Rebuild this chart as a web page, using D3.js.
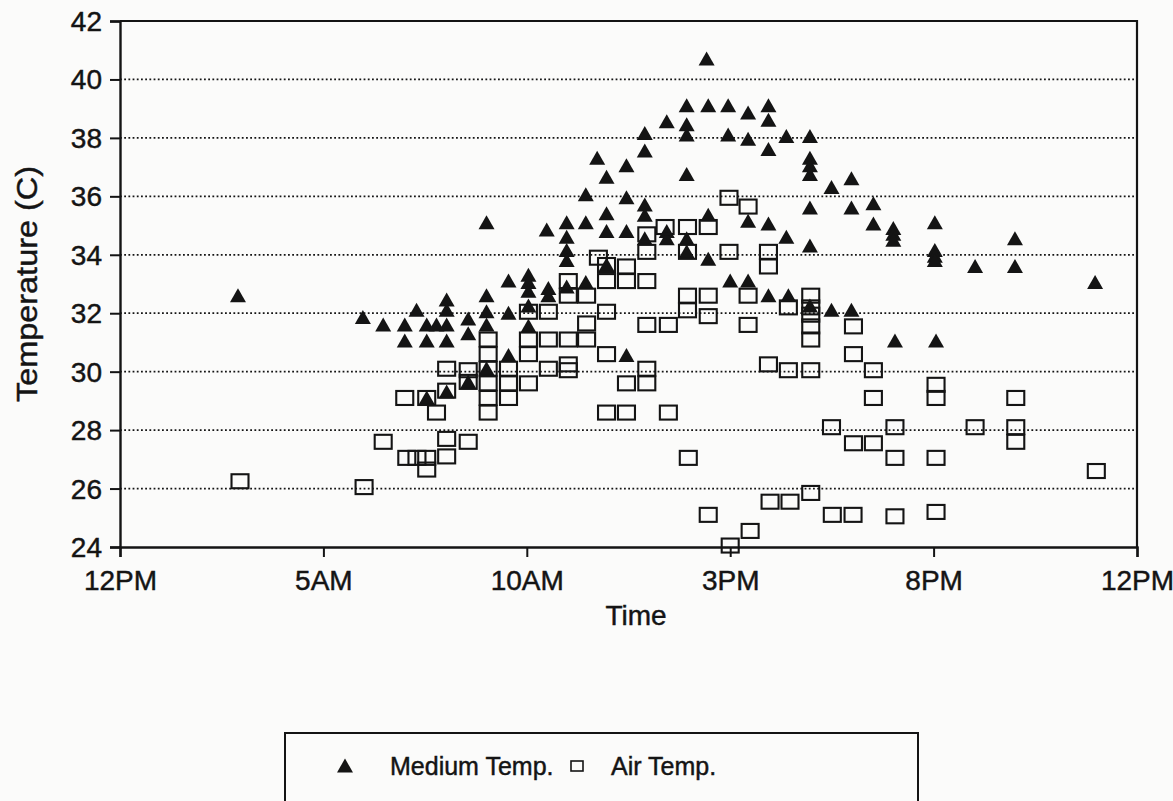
<!DOCTYPE html>
<html><head><meta charset="utf-8">
<script src="https://cdn.jsdelivr.net/npm/d3@7"></script>
<style>
body{margin:0;background:#fbfbfa;}
svg{display:block;}
text{font-family:"Liberation Sans",Arial,Helvetica,sans-serif;fill:#141414;stroke:#141414;stroke-width:0.45px;}
</style>
</head><body>
<svg id="chart" width="1173" height="801"></svg>
<script>
// ---- data (hours after midnight, temperature in C) ----
const mediumHours = [2.9,5.97,6.47,7.0,7.0,7.29,7.54,7.54,7.78,8.03,8.03,8.03,8.03,8.56,8.56,9.01,9.01,9.01,9.01,9.55,9.55,9.55,9.01,8.56,7.54,8.03,10.04,10.04,10.04,10.04,10.04,10.49,10.53,10.53,10.98,10.98,10.98,10.98,10.98,11.45,11.45,11.45,11.73,11.96,11.96,11.96,11.96,12.45,12.45,12.45,12.45,12.9,12.9,12.9,12.9,12.9,13.44,13.44,13.44,13.93,13.93,13.93,13.93,13.93,13.93,14.42,14.46,14.46,14.46,14.95,14.95,15.0,15.44,15.44,15.44,15.44,15.94,15.94,15.94,15.94,15.94,16.38,16.38,16.43,16.96,16.96,16.96,16.96,16.96,16.96,16.96,17.49,17.49,17.98,17.98,17.98,18.52,18.52,19.01,19.01,19.01,19.05,20.03,20.03,20.03,20.03,20.06,21.02,22.0,22.0,23.97];
const mediumTemps = [32.6,31.85,31.6,31.6,31.05,32.1,31.6,31.05,31.6,32.45,32.1,31.6,31.05,31.8,31.3,35.1,32.6,32.05,31.6,33.1,32.0,30.55,30.1,29.65,29.1,29.3,33.3,33.05,32.75,32.25,31.55,34.85,32.85,32.6,35.1,34.6,34.15,33.8,32.9,36.05,35.1,33.05,37.3,36.65,35.4,34.8,33.65,37.05,35.95,34.8,30.55,38.15,37.55,35.7,35.35,34.55,38.55,34.8,34.55,39.1,38.45,38.1,36.75,34.55,34.1,40.7,39.1,35.35,33.85,39.1,38.1,33.1,38.85,37.95,35.15,33.1,39.1,38.6,37.6,35.05,32.6,38.05,34.6,32.6,38.05,37.3,37.05,36.75,35.6,34.3,32.25,36.3,32.1,36.6,35.6,32.1,35.75,35.05,34.9,34.7,34.5,31.05,35.1,34.15,33.95,33.8,31.05,33.6,34.55,33.6,33.05];
const airHours = [2.95,6.0,6.47,7.0,7.05,7.3,7.54,7.54,7.54,7.78,8.03,8.03,8.03,8.03,8.56,8.56,8.56,9.05,9.05,9.05,9.05,9.05,9.05,9.55,9.55,9.55,10.04,10.04,10.04,10.04,10.53,10.53,10.53,11.02,11.02,11.02,11.02,11.02,11.47,11.47,11.47,11.76,11.96,11.96,11.96,11.96,11.96,12.45,12.45,12.45,12.45,12.95,12.95,12.95,12.95,12.95,12.95,13.4,13.48,13.48,13.95,13.95,13.95,13.95,13.97,14.46,14.46,14.46,14.46,14.97,14.97,15.0,15.44,15.44,15.44,15.49,15.94,15.94,15.94,15.98,16.43,16.43,16.47,16.98,16.98,16.98,16.98,16.98,16.98,16.98,17.49,17.51,18.03,18.03,18.03,18.02,18.52,18.52,18.52,19.05,19.05,19.05,20.06,20.06,20.06,20.06,21.02,22.02,22.02,22.02,24.0];
const airTemps = [26.25,26.05,27.6,29.1,27.05,27.05,27.05,29.1,26.65,28.6,30.1,29.35,27.7,27.1,30.05,29.65,27.6,31.1,30.6,30.1,29.6,29.1,28.6,30.1,29.6,29.1,32.05,31.1,30.6,29.6,32.05,31.1,30.1,33.1,32.6,31.1,30.25,30.05,32.6,31.65,31.1,33.9,33.65,33.1,32.05,30.6,28.6,33.6,33.1,29.6,28.6,34.7,34.1,33.1,31.6,30.1,29.6,34.95,31.6,28.6,34.95,34.1,32.6,32.1,27.05,34.95,32.6,31.9,25.1,35.95,34.1,24.05,35.65,32.6,31.6,24.55,34.1,33.6,30.25,25.55,32.2,30.05,25.55,32.6,32.2,31.95,31.55,31.1,30.05,25.85,28.1,25.1,31.55,30.6,27.55,25.1,30.05,29.1,27.55,28.1,27.05,25.05,29.55,29.1,27.05,25.2,28.1,29.1,28.1,27.6,26.6];

const xTickValues = [0,5,10,15,20,25];
const xTickLabels = ["12PM","5AM","10AM","3PM","8PM","12PM"];
const yTickValues = [24,26,28,30,32,34,36,38,40,42];
const gridValues = [26,28,30,32,34,36,38,40];
const seriesNames = ["Medium Temp.","Air Temp."];
const xTitle = "Time";
const yTitle = "Temperature (C)";

// ---- layout ----
const svg = d3.select("#chart");
const L = 120, R = 1137, T = 21, B = 547;
const x = d3.scaleLinear().domain([0,25]).range([L,R]);
const y = d3.scaleLinear().domain([24,42]).range([B,T]);
const ink = "#141414";

// grid
svg.append("g").selectAll("line").data(gridValues).join("line")
  .attr("x1",L).attr("x2",R).attr("y1",d=>y(d)).attr("y2",d=>y(d))
  .attr("stroke",ink).attr("stroke-width",1.7).attr("stroke-dasharray","1.8,2.4");

// frame (top & right)
svg.append("path").attr("d",`M${L},${T}H${R}V${B}`).attr("fill","none")
  .attr("stroke",ink).attr("stroke-width",2.2);

// axes
const xAxis = d3.axisBottom(x).tickValues(xTickValues)
  .tickFormat((d,i)=>xTickLabels[i]).tickSizeOuter(0).tickSize(10).tickPadding(8);
const gx = svg.append("g").attr("transform",`translate(0,${B})`).call(xAxis);
const yAxis = d3.axisLeft(y).tickValues(yTickValues).tickSizeOuter(0).tickSize(10).tickPadding(8);
const gy = svg.append("g").attr("transform",`translate(${L},0)`).call(yAxis);
[gx,gy].forEach(g=>{
  g.select(".domain").attr("stroke",ink).attr("stroke-width",2.4);
  g.selectAll(".tick line").attr("stroke",ink).attr("stroke-width",2);
  g.selectAll(".tick text").attr("font-size",28).attr("fill",ink)
    .style("font-family",'"Liberation Sans",Arial,sans-serif');
});
gx.selectAll(".tick text").attr("dy","0.9em");
gy.selectAll(".tick text").attr("dy","0.34em");

// titles
svg.append("text").attr("x",636).attr("y",625).attr("text-anchor","middle")
  .attr("font-size",28).text(xTitle);
svg.append("text").attr("transform",`translate(37,${(T+B)/2}) rotate(-90)`)
  .attr("text-anchor","middle").attr("font-size",29)
  .attr("textLength",236).attr("lengthAdjust","spacingAndGlyphs").text(yTitle);

// markers
const triPath = "M0,-7.5L8,6.5L-8,6.5Z";
const gm = svg.append("g");
gm.selectAll("path").data(d3.range(mediumHours.length)).join("path")
  .attr("d",triPath)
  .attr("transform",i=>`translate(${x(mediumHours[i])},${y(mediumTemps[i])})`)
  .attr("fill",ink);
const ga = svg.append("g");
ga.selectAll("rect").data(d3.range(airHours.length)).join("rect")
  .attr("x",i=>x(airHours[i])-8.5).attr("y",i=>y(airTemps[i])-7)
  .attr("width",17).attr("height",14)
  .attr("fill","none").attr("stroke",ink).attr("stroke-width",2.1);

// legend
const lg = svg.append("g");
lg.append("rect").attr("x",285).attr("y",733).attr("width",633).attr("height",80)
  .attr("fill","none").attr("stroke",ink).attr("stroke-width",2);
lg.append("path").attr("d",triPath).attr("transform","translate(345,766)").attr("fill",ink);
lg.append("text").attr("x",390).attr("y",775).attr("font-size",25).text(seriesNames[0]);
lg.append("rect").attr("x",571).attr("y",761).attr("width",12).attr("height",10)
  .attr("fill","none").attr("stroke",ink).attr("stroke-width",1.6);
lg.append("text").attr("x",611).attr("y",775).attr("font-size",25).text(seriesNames[1]);
</script>
</body></html>
